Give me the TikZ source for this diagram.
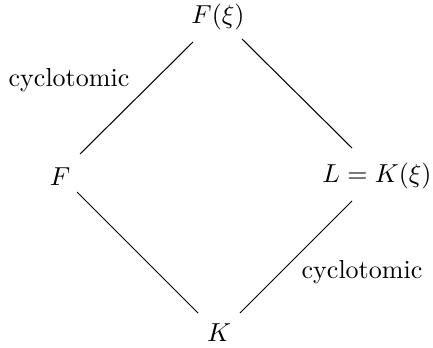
\documentclass[tikz,border=0pt]{standalone}
\begin{document}
\begin{tikzpicture}[x=0.3846pt,y=-0.3846pt,
  fld/.style={inner sep=0pt},
  lbl/.style={inner sep=0pt},
  edge/.style={line width=0.4pt}]
\useasboundingbox (0,0) rectangle (433,348);
\node[fld] (Fxi) at (218,17) {$F(\xi)$};
\node[fld] (F) at (60,177) {$F$};
\node[fld] (L) at (377,176) {$L=K(\xi)$};
\node[fld] (K) at (219,333) {$K$};
\draw[edge] ([shift={(-25,25)}]Fxi.center) -- ([shift={(20,-23)}]F.center);
\draw[edge] ([shift={(24,22)}]Fxi.center) -- ([shift={(-25,-28)}]L.center);
\draw[edge] ([shift={(17,15)}]F.center) -- ([shift={(-21,-20)}]K.center);
\draw[edge] ([shift={(-25,25)}]L.center) -- ([shift={(21,-20)}]K.center);
\node[lbl] (c1) at (69,80) {cyclotomic};
\node[lbl] (c2) at (362,272) {cyclotomic};
\end{tikzpicture}
\end{document}
